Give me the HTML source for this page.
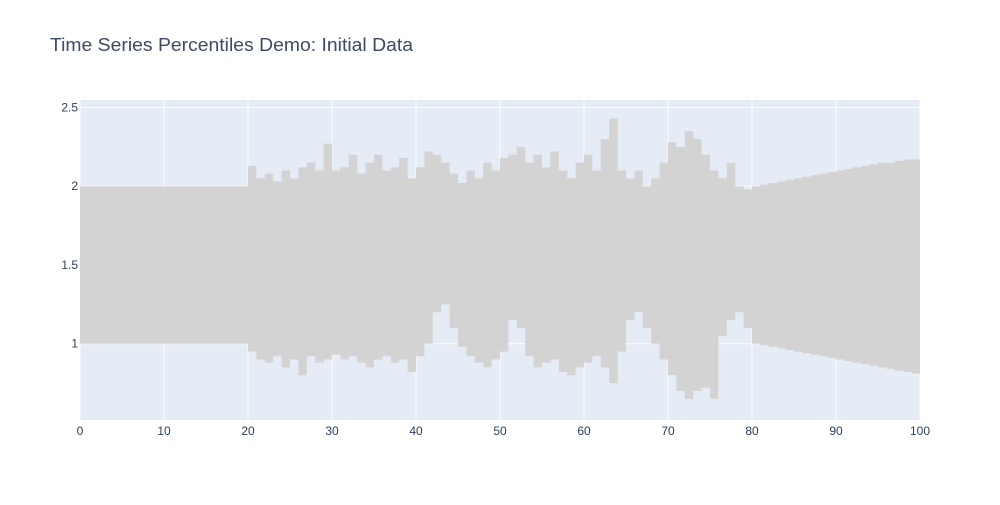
<!DOCTYPE html>
<html><head><meta charset="utf-8"><style>
body{margin:0;background:#fff;font-family:"Liberation Sans",sans-serif}
svg text{font-family:"Liberation Sans",sans-serif;fill:#2a3f5f}
</style></head><body>
<svg id="chart" width="1000" height="500" xmlns="http://www.w3.org/2000/svg">
<rect width="1000" height="500" fill="#fff"/>
<text x="50" y="51" font-size="18" textLength="363" lengthAdjust="spacingAndGlyphs" fill="#444" style="fill:#3c4a63">Time Series Percentiles Demo: Initial Data</text>
<rect x="80" y="100" width="840" height="320" fill="#e5ecf6"/>
<g id="grid"></g>
<g id="series"></g>
<g id="ticks"></g>
</svg>
<script>
const xTicks=[0,10,20,30,40,50,60,70,80,90,100];
const yTicks=[1,1.5,2,2.5];
const yTickLabels=["1","1.5","2","2.5"];
const highVals=[2,2,2,2,2,2,2,2,2,2,2,2,2,2,2,2,2,2,2,2,
2.13,2.05,2.08,2.03,2.1,2.05,2.12,2.15,2.1,2.27,2.1,2.12,2.2,2.08,2.15,2.2,2.1,2.12,2.18,2.05,
2.12,2.22,2.2,2.15,2.08,2.02,2.1,2.05,2.15,2.1,2.18,2.2,2.25,2.15,2.2,2.12,2.22,2.1,2.05,2.15,
2.2,2.1,2.3,2.43,2.1,2.05,2.1,2.0,2.05,2.15,2.28,2.25,2.35,2.3,2.2,2.1,2.05,2.15,2.0,1.98,
2.0,2.01,2.02,2.03,2.04,2.05,2.06,2.07,2.08,2.09,2.10,2.11,2.12,2.13,2.14,2.15,2.15,2.16,2.17,2.17,2.18];
const lowVals=[1,1,1,1,1,1,1,1,1,1,1,1,1,1,1,1,1,1,1,1,
0.95,0.9,0.88,0.92,0.85,0.9,0.8,0.92,0.88,0.9,0.93,0.9,0.92,0.88,0.85,0.9,0.92,0.88,0.9,0.82,
0.92,1.0,1.2,1.25,1.1,0.98,0.92,0.88,0.85,0.9,0.95,1.15,1.1,0.92,0.85,0.88,0.9,0.82,0.8,0.85,
0.88,0.92,0.85,0.75,0.95,1.15,1.2,1.1,1.0,0.9,0.8,0.7,0.65,0.7,0.72,0.65,1.05,1.15,1.2,1.1,
1.0,0.99,0.98,0.97,0.96,0.95,0.94,0.93,0.92,0.91,0.90,0.89,0.88,0.87,0.86,0.85,0.84,0.83,0.82,0.81,0.80];
const NS="http://www.w3.org/2000/svg";
const X=v=>80+v*8.4;
const Y=v=>343.7-(v-1)*157.5;
const grid=document.getElementById('grid'),ticks=document.getElementById('ticks'),ser=document.getElementById('series');
xTicks.forEach(t=>{
  const l=document.createElementNS(NS,'line');
  l.setAttribute('x1',X(t));l.setAttribute('x2',X(t));l.setAttribute('y1',100);l.setAttribute('y2',420);
  l.setAttribute('stroke','#fff');l.setAttribute('stroke-width',1);
  
  
  grid.appendChild(l);
  const tx=document.createElementNS(NS,'text');
  tx.setAttribute('x',X(t));tx.setAttribute('y',435);tx.setAttribute('font-size',12);tx.setAttribute('text-anchor','middle');
  tx.textContent=t;
  
  
  ticks.appendChild(tx);
});
yTicks.forEach((t,i)=>{
  const l=document.createElementNS(NS,'line');
  l.setAttribute('x1',80);l.setAttribute('x2',920);l.setAttribute('y1',Y(t));l.setAttribute('y2',Y(t));
  l.setAttribute('stroke','#fff');l.setAttribute('stroke-width',1);
  
  
  grid.appendChild(l);
  const tx=document.createElementNS(NS,'text');
  tx.setAttribute('x',78);tx.setAttribute('y',Y(t)+4);tx.setAttribute('font-size',12);tx.setAttribute('text-anchor','end');
  tx.textContent=yTickLabels[i];
  
  
  ticks.appendChild(tx);
});
// stepped band fill
let pts=[];
highVals.forEach((v,i)=>{const x0=X(i),x1=X(Math.min(i+1,100));pts.push(x0+','+Y(v));pts.push(x1+','+Y(v));});
for(let i=lowVals.length-1;i>=0;i--){const x0=X(i),x1=X(Math.min(i+1,100));pts.push(x1+','+Y(lowVals[i]));pts.push(x0+','+Y(lowVals[i]));}
const band=document.createElementNS(NS,'polygon');
band.setAttribute('points',pts.join(' '));band.setAttribute('fill','#d3d3d3');


ser.appendChild(band);
</script>
</body></html>
